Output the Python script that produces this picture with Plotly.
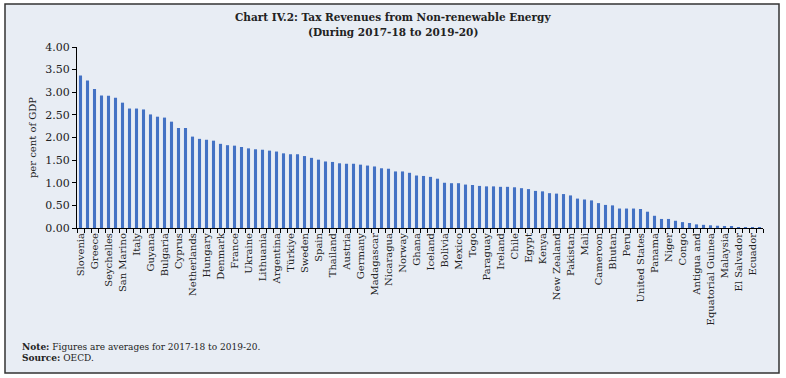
import plotly.graph_objects as go

countries = [
    "Slovenia", "Croatia", "Greece", "Estonia", "Seychelles", "Latvia", "San Marino", "Jamaica",
    "Italy", "Belgium", "Guyana", "Portugal", "Bulgaria", "Malta", "Cyprus", "United Kingdom",
    "Netherlands", "Poland", "Hungary", "Romania", "Denmark", "Finland", "France", "Czech Republic",
    "Ukraine", "Luxembourg", "Lithuania", "Slovak Republic", "Argentina", "Uruguay", "Türkiye", "Switzerland",
    "Sweden", "Korea", "Spain", "Japan", "Thailand", "Barbados", "Austria", "Morocco",
    "Germany", "Senegal", "Madagascar", "Costa Rica", "Nicaragua", "Dominican Republic", "Norway", "India",
    "Ghana", "Honduras", "Iceland", "Guatemala", "Bolivia", "Australia", "Mexico", "Canada",
    "Togo", "Philippines", "Paraguay", "Tunisia", "Ireland", "Rwanda", "Chile", "Mauritius",
    "Egypt", "Belize", "Kenya", "Cabo Verde", "New Zealand", "Uganda", "Pakistan", "Jordan",
    "Mali", "Eswatini", "Cameroon", "Botswana", "Bhutan", "Burkina Faso", "Peru", "Cook Islands",
    "United States", "Mongolia", "Panama", "Kazakhstan", "Niger", "Colombia", "Congo", "Indonesia",
    "Antigua and", "Trinidad and Tobago", "Equatorial Guinea", "Nigeria", "Malaysia", "Kuwait", "El Salvador", "Oman",
    "Ecuador", "Venezuela",
]

values = [
    3.37, 3.26, 3.07, 2.93, 2.92, 2.88, 2.77, 2.64, 2.64, 2.62,
    2.51, 2.46, 2.44, 2.35, 2.21, 2.21, 2.02, 1.97, 1.95, 1.93,
    1.86, 1.83, 1.82, 1.79, 1.76, 1.74, 1.73, 1.71, 1.69, 1.65,
    1.63, 1.63, 1.59, 1.55, 1.51, 1.47, 1.46, 1.43, 1.42, 1.42,
    1.40, 1.38, 1.36, 1.32, 1.31, 1.25, 1.25, 1.22, 1.16, 1.15,
    1.13, 1.09, 1.00, 0.99, 0.99, 0.96, 0.95, 0.93, 0.92, 0.92,
    0.91, 0.91, 0.90, 0.88, 0.86, 0.82, 0.81, 0.77, 0.76, 0.75,
    0.72, 0.65, 0.63, 0.61, 0.55, 0.51, 0.50, 0.43, 0.43, 0.43,
    0.42, 0.36, 0.27, 0.20, 0.20, 0.16, 0.13, 0.11, 0.08, 0.07,
    0.06, 0.05, 0.04, 0.03, 0.02, 0.015, 0.01, 0.005,
]

# every other category label is shown (as in the original)
tick_text = [c if i % 2 == 0 else "" for i, c in enumerate(countries)]

y_ticks = [0, 0.5, 1, 1.5, 2, 2.5, 3, 3.5, 4]

title_line1 = "Chart IV.2: Tax Revenues from Non-renewable Energy"
title_line2 = "(During 2017-18 to 2019-20)"
y_title = "per cent of GDP"
note_text = "<b>Note:</b> Figures are averages for 2017-18 to 2019-20."
source_text = "<b>Source:</b> OECD."

BG = "#E8EDF4"
FONT = "DejaVu Serif"

W, H = 786, 378
L, R, T, B = 77, 23, 47, 150
pw, ph = W - L - R, H - T - B


def px(x):
    return (x - L) / pw


def py(y):
    return (H - B - y) / ph


fig = go.Figure()
fig.add_trace(go.Bar(
    x=countries, y=values,
    marker=dict(color="#4472C4", line=dict(width=0)),
    hoverinfo="x+y",
))

fig.update_layout(
    width=W, height=H,
    margin=dict(l=L, r=R, t=T, b=B),
    paper_bgcolor="white",
    plot_bgcolor=BG,
    bargap=0.56,
    showlegend=False,
    font=dict(family=FONT, color="#222222"),
    xaxis=dict(
        type="category",
        tickmode="array",
        tickvals=countries,
        ticktext=tick_text,
        tickangle=-90,
        tickson="boundaries",
        ticks="outside", ticklen=4, tickcolor="#000000", tickwidth=1,
        showline=True, linecolor="#000000", linewidth=1,
        showgrid=False, zeroline=False,
        tickfont=dict(family=FONT, size=10, color="#222222"),
        automargin=False,
    ),
    yaxis=dict(
        range=[0, 4],
        tickmode="array",
        tickvals=y_ticks,
        ticktext=[f"{v:.2f}" for v in y_ticks],
        ticks="outside", ticklen=4, tickcolor="#000000", tickwidth=1,
        showline=True, linecolor="#000000", linewidth=1,
        showgrid=False, zeroline=False,
        tickfont=dict(family=FONT, size=11, color="#222222"),
        title=dict(text=y_title, font=dict(family=FONT, size=10, color="#222222"), standoff=6),
        automargin=False,
    ),
    shapes=[
        dict(type="rect", xref="paper", yref="paper",
             x0=px(5), x1=px(779), y0=py(373), y1=py(4),
             fillcolor=BG, line=dict(color="#333333", width=1.5), layer="below"),
    ],
    annotations=[
        dict(text="<b>" + title_line1 + "</b>", xref="paper", yref="paper",
             x=px(393), y=py(17), showarrow=False, xanchor="center", yanchor="middle",
             font=dict(family=FONT, size=10.5, color="#222222")),
        dict(text="<b>" + title_line2 + "</b>", xref="paper", yref="paper",
             x=px(393), y=py(32), showarrow=False, xanchor="center", yanchor="middle",
             font=dict(family=FONT, size=10.5, color="#222222")),
        dict(text=note_text, xref="paper", yref="paper",
             x=px(20), y=py(347), showarrow=False, xanchor="left", yanchor="middle",
             font=dict(family=FONT, size=9, color="#222222")),
        dict(text=source_text, xref="paper", yref="paper",
             x=px(20), y=py(358), showarrow=False, xanchor="left", yanchor="middle",
             font=dict(family=FONT, size=9, color="#222222")),
    ],
)

fig.write_html("out.html", config={"displayModeBar": False},
               post_script="document.body.style.margin='0';")
